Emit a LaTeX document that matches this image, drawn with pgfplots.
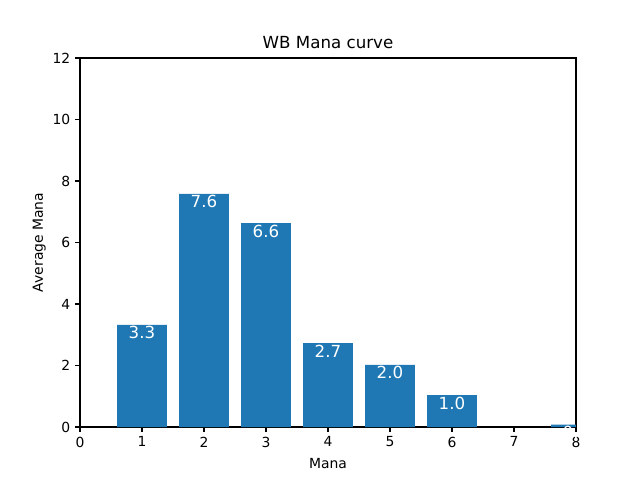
\documentclass[border=0pt]{standalone}
\usepackage{pgfplots}
\pgfplotsset{compat=1.18}
\usepackage{fontspec}
\setmainfont{DejaVu Sans}
\definecolor{mplblue}{HTML}{1F77B4}
\begin{document}
\begin{tikzpicture}
\path[use as bounding box] (-57.6pt,-38.16pt) rectangle (403.2pt,307.44pt);
\begin{axis}[
  at={(0,0)}, anchor=south west,
  scale only axis,
  width=357.12pt, height=265.68pt,
  xmin=0, xmax=8, ymin=0, ymax=12,
  xtick={0,1,...,8}, ytick={0,2,...,12},
  tick pos=left, tick align=outside,
  major tick length=3.5pt,
  every tick/.style={black, line width=0.8pt},
  axis line style={line width=0.8pt},
  /pgf/number format/assume math mode=true,
  tick label style={font=\fontsize{10}{12}\selectfont},
  xlabel={Mana}, ylabel={Average Mana},
  label style={font=\fontsize{10}{12}\selectfont},
  xlabel style={yshift=-1pt},
  ylabel style={yshift=-2pt},
  title={WB Mana curve},
  title style={font=\fontsize{12}{14}\selectfont, at={(0.5,1)}, anchor=south, yshift=-3pt},
  ybar, bar width=0.8,
  nodes near coords,
  nodes near coords style={anchor=north, text=white, font=\fontsize{12}{14}\selectfont, inner sep=1pt,
    /pgf/number format/.cd, fixed, fixed zerofill, precision=1, assume math mode=true},
]
\addplot[fill=mplblue, draw=none] coordinates {
 (1,3.32) (2,7.58) (3,6.63) (4,2.73) (5,2.02) (6,1.04) (8,0.08)
};
\end{axis}
\end{tikzpicture}
\end{document}
